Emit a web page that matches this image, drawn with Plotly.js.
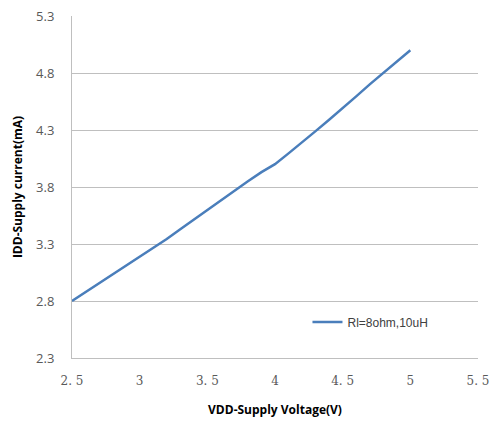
<!DOCTYPE html>
<html>
<head>
<meta charset="utf-8">
<script src="https://cdn.plot.ly/plotly-3.0.1.min.js"></script>
<style>html,body{margin:0;padding:0;background:#fff;}#chart{width:491px;height:422px;}</style>
</head>
<body>
<div id="chart"></div>
<script>
const voltage = [2.5, 2.6, 2.7, 2.8, 2.9, 3.0, 3.1, 3.2, 3.3, 3.4, 3.5, 3.6, 3.7, 3.8, 3.9, 4.0, 4.1, 4.2, 4.3, 4.4, 4.5, 4.6, 4.7, 4.8, 4.9, 5.0];
const current = [2.80, 2.877, 2.954, 3.031, 3.108, 3.185, 3.263, 3.344, 3.43, 3.515, 3.597, 3.68, 3.765, 3.85, 3.93, 4.00, 4.095, 4.19, 4.29, 4.39, 4.49, 4.595, 4.70, 4.80, 4.90, 5.00];
const seriesName = 'Rl=8ohm,10uH';
const xTickVals = [2.5, 3, 3.5, 4, 4.5, 5, 5.5];
const xTickText = ['2. 5', '3', '3. 5', '4', '4. 5', '5', '5. 5'];
const yTickVals = [2.3, 2.8, 3.3, 3.8, 4.3, 4.8, 5.3];
const yTickText = ['2.3', '2.8', '3.3', '3.8', '4.3', '4.8', '5.3'];

const trace = {
  x: voltage, y: current, name: seriesName, type: 'scatter', mode: 'lines',
  line: {color: '#4a7ebb', width: 2.5}
};
const layout = {
  width: 491, height: 422,
  margin: {l: 72, r: 13, t: 16, b: 64},
  paper_bgcolor: '#ffffff', plot_bgcolor: '#ffffff',
  showlegend: true,
  legend: {x: 0.58, y: 0.105, xanchor: 'left', yanchor: 'middle', bgcolor: 'rgba(0,0,0,0)',
    font: {family: 'Liberation Sans, Arial, sans-serif', size: 12, color: '#404040'}},
  xaxis: {
    range: [2.5, 5.5], tickmode: 'array', tickvals: xTickVals, ticktext: xTickText,
    showgrid: false, zeroline: false, showline: true, linecolor: '#bfbfbf', linewidth: 1,
    ticks: '', ticklabelstandoff: 12,
    tickfont: {family: 'DejaVu Serif, Liberation Serif, serif', size: 12, color: '#595959'},
    title: {text: 'VDD-Supply Voltage(V)', standoff: 18,
      font: {family: 'Open Sans, Liberation Sans, sans-serif', size: 12, color: '#000', weight: 'bold'}},
    automargin: false, fixedrange: true
  },
  yaxis: {
    range: [2.3, 5.3], tickmode: 'array', tickvals: yTickVals, ticktext: yTickText,
    showgrid: true, gridcolor: '#bfbfbf', gridwidth: 1, zeroline: false,
    showline: true, linecolor: '#bfbfbf', linewidth: 1,
    ticks: '', ticklabelstandoff: 14,
    tickfont: {family: 'Open Sans, Liberation Sans, sans-serif', size: 13, color: '#595959'},
    title: {text: 'IDD-Supply current(mA)', standoff: 10,
      font: {family: 'Open Sans, Liberation Sans, sans-serif', size: 12, color: '#000', weight: 'bold'}},
    automargin: false, fixedrange: true
  }
};
Plotly.newPlot('chart', [trace], layout, {displayModeBar: false, staticPlot: true});
</script>
</body>
</html>
